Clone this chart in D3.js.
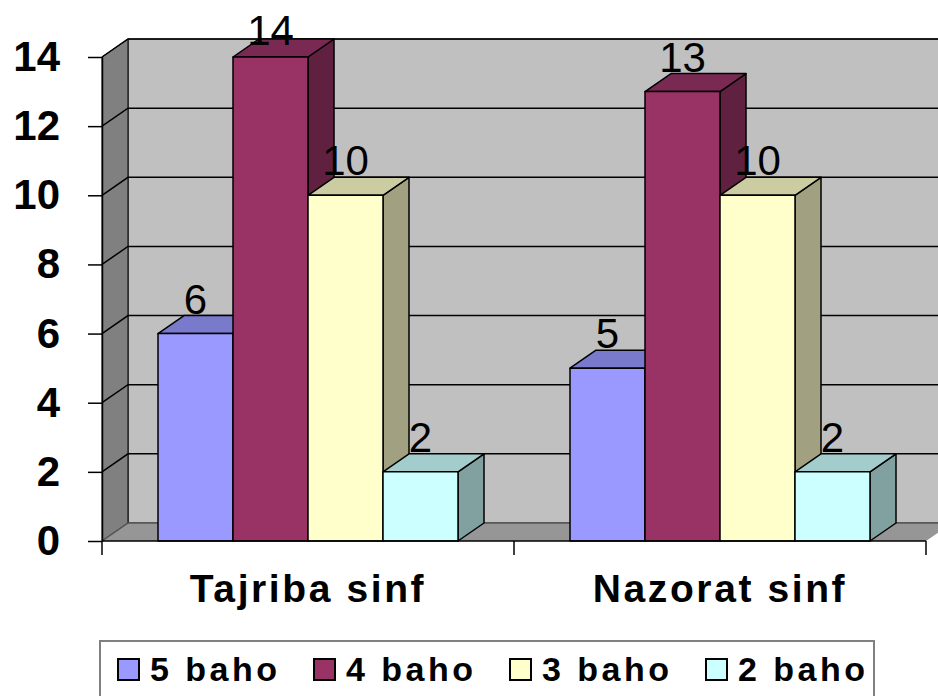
<!DOCTYPE html>
<html>
<head>
<meta charset="utf-8">
<script src="https://cdn.jsdelivr.net/npm/d3@7"></script>
<style>
  body { margin: 0; background: #fff; }
  svg { display: block; }
</style>
</head>
<body>
<div id="chart"></div>
<script>
const categories = ['Tajriba sinf', 'Nazorat sinf'];
const series = ['5 baho', '4 baho', '3 baho', '2 baho'];
const values = {
  '5 baho': [6, 5],
  '4 baho': [14, 13],
  '3 baho': [10, 10],
  '2 baho': [2, 2]
};
const yTicks = [0, 2, 4, 6, 8, 10, 12, 14];
const colors = ['#9999FF', '#993366', '#FFFFCC', '#CCFFFF'];

const W = 938, H = 696;
const font = '"Liberation Sans", Arial, sans-serif';
const dx = 26, dy = -18; // 3D depth offset

const svg = d3.select('#chart').append('svg')
  .attr('width', W).attr('height', H);

const x0 = d3.scaleBand().domain(categories).range([102, 926]);
const x1 = d3.scaleBand().domain(series).range([56, 356]);
const y = d3.scaleLinear().domain([0, 14]).range([541, 57]);
const color = d3.scaleOrdinal().domain(series).range(colors);

const xLeft = x0.range()[0], xRight = x0.range()[1];
const yBase = y(0), yTop = y(14);

function shade(c, k) {
  const r = d3.rgb(c);
  return d3.rgb(r.r * k, r.g * k, r.b * k).formatHex();
}
const pts = a => a.map(p => p.join(',')).join(' ');

// Walls
svg.append('polygon') // back wall
  .attr('points', pts([[xLeft + dx, yBase + dy], [xLeft + dx, yTop + dy], [xRight + dx, yTop + dy], [xRight + dx, yBase + dy]]))
  .attr('fill', '#C0C0C0').attr('stroke', '#000').attr('stroke-width', 1);
svg.append('polygon') // side wall
  .attr('points', pts([[xLeft, yBase], [xLeft, yTop], [xLeft + dx, yTop + dy], [xLeft + dx, yBase + dy]]))
  .attr('fill', '#808080').attr('stroke', '#000').attr('stroke-width', 1);
svg.append('polygon') // floor
  .attr('points', pts([[xLeft, yBase], [xRight, yBase], [xRight + dx, yBase + dy], [xLeft + dx, yBase + dy]]))
  .attr('fill', '#969696');

// Gridlines on walls
yTicks.forEach(t => {
  svg.append('polyline')
    .attr('points', pts([[xLeft, y(t)], [xLeft + dx, y(t) + dy], [xRight + dx, y(t) + dy]]))
    .attr('fill', 'none')
    .attr('stroke', t === 0 ? '#555' : '#000')
    .attr('stroke-width', 1.5);
});

// Bars
categories.forEach((c, ci) => {
  series.forEach(s => {
    const v = values[s][ci];
    const xa = x0(c) + x1(s);
    const xb = xa + x1.bandwidth();
    const yv = y(v);
    const col = color(s);
    const g = svg.append('g').attr('stroke', '#000').attr('stroke-width', 1.5).attr('stroke-linejoin', 'round');
    g.append('polygon')
      .attr('points', pts([[xb, yv], [xb + dx, yv + dy], [xb + dx, yBase + dy], [xb, yBase]]))
      .attr('fill', shade(col, 0.63));
    g.append('polygon')
      .attr('points', pts([[xa, yv], [xb, yv], [xb + dx, yv + dy], [xa + dx, yv + dy]]))
      .attr('fill', shade(col, 0.8));
    g.append('rect')
      .attr('x', xa).attr('y', yv)
      .attr('width', x1.bandwidth()).attr('height', yBase - yv)
      .attr('fill', col);
  });
});

// Data labels
categories.forEach((c, ci) => {
  series.forEach(s => {
    const v = values[s][ci];
    svg.append('text')
      .attr('x', x0(c) + x1(s) + x1.bandwidth() / 2)
      .attr('y', Math.max(y(v) - 20, 45))
      .attr('text-anchor', 'middle')
      .style('font-family', font)
      .style('font-size', '42px')
      .attr('fill', '#000')
      .text(v);
  });
});

// Y axis
const yAxis = svg.append('g')
  .attr('transform', `translate(${xLeft},0)`)
  .call(d3.axisLeft(y).tickValues(yTicks).tickSize(14).tickPadding(28).tickSizeOuter(0));
yAxis.select('.domain').attr('stroke', '#000').attr('stroke-width', 1.5);
yAxis.selectAll('.tick line').attr('stroke', '#000').attr('stroke-width', 1.5);
yAxis.selectAll('.tick text')
  .style('font-family', font)
  .style('font-size', '42px')
  .style('font-weight', 'bold')
  .attr('fill', '#000');

// X axis line and category ticks
svg.append('line')
  .attr('x1', xLeft).attr('x2', xRight).attr('y1', yBase).attr('y2', yBase)
  .attr('stroke', '#000').attr('stroke-width', 1.5);
[...categories.map(c => x0(c)), xRight].forEach(xv => {
  svg.append('line')
    .attr('x1', xv).attr('x2', xv).attr('y1', yBase).attr('y2', yBase + 14)
    .attr('stroke', '#000').attr('stroke-width', 1.5);
});
categories.forEach(c => {
  svg.append('text')
    .attr('x', x0(c) + x0.bandwidth() / 2)
    .attr('y', 602)
    .attr('text-anchor', 'middle')
    .style('font-family', font)
    .style('font-size', '39px')
    .style('font-weight', 'bold')
    .style('letter-spacing', '2.6px')
    .text(c);
});

// Legend
svg.append('rect')
  .attr('x', 100).attr('y', 641).attr('width', 774).attr('height', 80)
  .attr('fill', '#fff').attr('stroke', '#808080').attr('stroke-width', 2);
const legend = svg.selectAll('.legend-item')
  .data(series)
  .join('g')
  .attr('class', 'legend-item')
  .attr('transform', (d, i) => `translate(${118 + i * 196},659)`);
legend.append('rect')
  .attr('width', 21).attr('height', 21)
  .attr('fill', d => color(d))
  .attr('stroke', '#000').attr('stroke-width', 2);
legend.append('text')
  .attr('x', 32).attr('y', 22)
  .style('font-family', font)
  .style('font-size', '34px')
  .style('font-weight', 'bold')
  .style('letter-spacing', '3.5px')
  .text(d => d);
</script>
</body>
</html>
